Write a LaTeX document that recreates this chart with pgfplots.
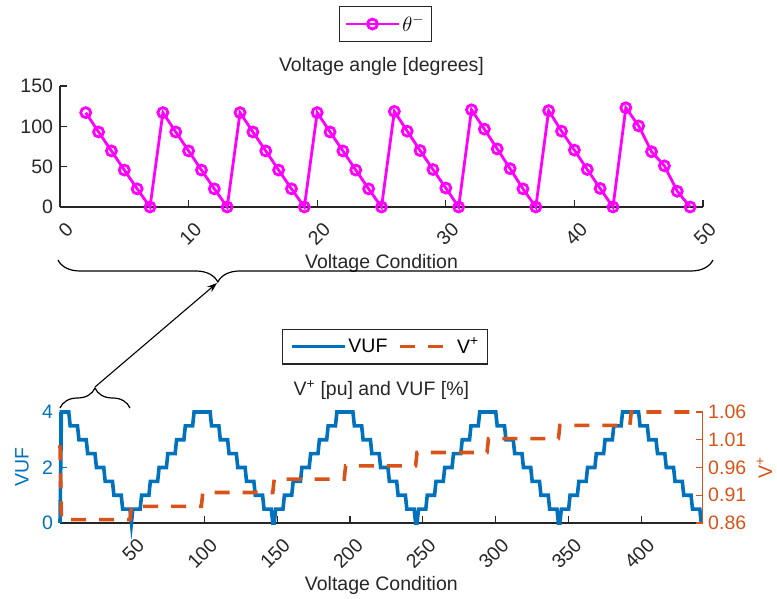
\documentclass[border=0pt]{standalone}
\usepackage{fontspec}
\setmainfont{Liberation Sans}
\usepackage{pgfplots}
\pgfplotsset{compat=1.18}
\usetikzlibrary{decorations.pathreplacing,arrows.meta}
\definecolor{mblue}{HTML}{0072BD}
\definecolor{morange}{HTML}{D95319}
\definecolor{mgray}{HTML}{262626}
\definecolor{mmag}{HTML}{FF00FF}
\begin{document}
\begin{tikzpicture}[x=1pt,y=1pt,font=\fontsize{19.5}{23}\selectfont]
\useasboundingbox (0,0) rectangle (777,599);
\pgfplotsset{
  mstyle/.style={
    scale only axis,
    axis line style={mgray, line width=1.1pt},
    tick style={mgray, line width=1.1pt},
    major tick length=7pt,
    tick align=inside,
    clip=false,
    /pgf/number format/assume math mode=true,
    every tick label/.append style={text=mgray},
    xticklabel style={xshift=12pt, yshift=-16.5pt, rotate=45, anchor=east},
  }
}
% ---------------- top axis ----------------
\begin{axis}[mstyle,
  at={(60pt,392pt)}, anchor=south west,
  width=643pt, height=121pt,
  xmin=0, xmax=50, ymin=0, ymax=150,
  axis x line*=bottom, axis y line*=left,
  xtick={0,10,20,30,40,50}, ytick={0,50,100,150},
  yticklabel style={xshift=-3.5pt},
  title={Voltage angle [degrees]},
  title style={at={(axis description cs:0.5,1)}, anchor=center, yshift=14pt, text=mgray},
  xlabel={Voltage Condition},
  xlabel style={at={(axis description cs:0.5,0)}, anchor=center, yshift=-56pt, text=mgray},
  legend style={at={(axis description cs:0.506,1.512)}, anchor=center, draw=mgray, line width=1.1pt,
    inner xsep=5pt, inner ysep=7pt},
  legend image code/.code={
    \draw[#1] (0pt,0pt) -- (53pt,0pt);
    \draw[#1] plot coordinates {(26.5pt,0pt)};
  },
]
\addplot[mmag, line width=2.8pt, mark=o, mark size=5pt, mark options={line width=2.8pt}] coordinates {
(2,117) (3,93) (4,69.5) (5,45.8) (6,22.5) (7,0)
(8,117) (9,93) (10,69.5) (11,45.8) (12,22.5) (13,0)
(14,117) (15,93) (16,69.5) (17,45.8) (18,22.5) (19,0)
(20,117) (21,93) (22,69.5) (23,45.8) (24,22.5) (25,0)
(26,118.5) (27,94) (28,70) (29,46.5) (30,23.5) (31,0)
(32,120.5) (33,96.5) (34,72) (35,47.5) (36,22.5) (37,0)
(38,119.5) (39,94) (40,70.5) (41,46.5) (42,23) (43,0)
(44,123) (45,100.5) (46,68.5) (47,51) (48,19.5) (49,0)
};
\addlegendentry{$\theta^-$}
\end{axis}
% ---------------- bottom axis (left, VUF) ----------------
\begin{axis}[mstyle,
  at={(60pt,76pt)}, anchor=south west,
  width=642.7pt, height=111pt,
  xmin=1, xmax=442, ymin=0, ymax=4,
  axis x line*=bottom, axis y line*=left,
  y axis line style={draw=mblue},
  every major y tick/.append style={draw=mblue},
  xtick={50,100,...,400}, ytick={0,2,4},
  yticklabel style={xshift=-3.5pt, text=mblue},
  ylabel={VUF},
  ylabel style={at={(axis description cs:-0.059,0.5)}, anchor=center, text=mblue},
  title={V\textsuperscript{+} [pu] and VUF [\%]},
  title style={at={(axis description cs:0.5,1)}, anchor=center, yshift=16pt, text=mgray},
  xlabel={Voltage Condition},
  xlabel style={at={(axis description cs:0.5,0)}, anchor=center, yshift=-62pt, text=mgray},
]
\addplot[mblue, line width=3.6pt] coordinates {
(1,0) (2,4) (7,4) (8,3.5) (13,3.5) (14,3) (19,3) (20,2.5) (25,2.5) (26,2) (31,2) (32,1.5) (37,1.5) (38,1) (43,1) (44,0.5) (49,0.5) (50,0)
(51,0.5) (56,0.5) (57,1) (62,1) (63,1.5) (68,1.5) (69,2) (74,2) (75,2.5) (80,2.5) (81,3) (86,3) (87,3.5) (92,3.5) (93,4) (104,4) (105,3.5) (110,3.5) (111,3) (116,3) (117,2.5) (122,2.5) (123,2) (128,2) (129,1.5) (134,1.5) (135,1) (140,1) (141,0.5) (146,0.5) (147,0) (148,0)
(149,0.5) (154,0.5) (155,1) (160,1) (161,1.5) (166,1.5) (167,2) (172,2) (173,2.5) (178,2.5) (179,3) (184,3) (185,3.5) (190,3.5) (191,4) (202,4) (203,3.5) (208,3.5) (209,3) (214,3) (215,2.5) (220,2.5) (221,2) (226,2) (227,1.5) (232,1.5) (233,1) (238,1) (239,0.5) (244,0.5) (245,0) (246,0)
(247,0.5) (252,0.5) (253,1) (258,1) (259,1.5) (264,1.5) (265,2) (270,2) (271,2.5) (276,2.5) (277,3) (282,3) (283,3.5) (288,3.5) (289,4) (300,4) (301,3.5) (306,3.5) (307,3) (312,3) (313,2.5) (318,2.5) (319,2) (324,2) (325,1.5) (330,1.5) (331,1) (336,1) (337,0.5) (342,0.5) (343,0) (344,0)
(345,0.5) (350,0.5) (351,1) (356,1) (357,1.5) (362,1.5) (363,2) (368,2) (369,2.5) (374,2.5) (375,3) (380,3) (381,3.5) (386,3.5) (387,4) (398,4) (399,3.5) (404,3.5) (405,3) (410,3) (411,2.5) (416,2.5) (417,2) (422,2) (423,1.5) (428,1.5) (429,1) (434,1) (435,0.5) (440,0.5) (441,0)
};
\end{axis}
% ---------------- bottom axis (right, V+) ----------------
\begin{axis}[mstyle,
  at={(60pt,76pt)}, anchor=south west,
  width=642.7pt, height=111pt,
  xmin=1, xmax=442, ymin=0.86, ymax=1.06,
  axis x line=none, axis y line*=right,
  y axis line style={draw=morange},
  every major y tick/.append style={draw=morange},
  ytick={0.86,0.91,0.96,1.01,1.06},
  yticklabel style={xshift=2pt, text=morange, /pgf/number format/.cd, fixed, fixed zerofill, precision=2, /tikz/.cd},
  ylabel={V\textsuperscript{+}},
  ylabel style={at={(axis description cs:1.096,0.5)}, anchor=center, text=morange},
  legend style={at={(axis description cs:0.506,1.59)}, anchor=center, draw=mgray, line width=1.1pt,
    inner xsep=7pt, inner ysep=7pt, legend columns=2,
    /tikz/every odd column/.append style={column sep=0pt},
    /tikz/every even column/.append style={column sep=9pt}},
  legend image code/.code={\draw[#1] (0pt,0pt) -- (53pt,0pt);},
]
\addlegendimage{mblue, line width=3.6pt}
\addlegendentry{VUF}
\addplot[morange, line width=3.6pt, dash pattern=on 15pt off 13pt] coordinates {
(1,1.0) (2,0.866) (49,0.866) (50,0.890) (98,0.890) (99,0.915) (147,0.915) (148,0.939) (196,0.939)
(197,0.963) (245,0.963) (246,0.987) (294,0.987) (295,1.012) (343,1.012) (344,1.036) (392,1.036) (393,1.060) (441,1.060)
};
\addlegendentry{V\textsuperscript{+}}
\end{axis}
% ---------------- braces and arrow ----------------
\draw[black, line width=1.2pt, decorate, decoration={brace, mirror, amplitude=22pt, aspect=0.244}] (58,339) -- (713,339);
\draw[black, line width=1.2pt, decorate, decoration={brace, amplitude=20pt}] (60,191) -- (130,191);
\draw[black, line width=1.1pt, -{Stealth[length=10pt, width=7pt]}] (95,212) -- (217,316);
\end{tikzpicture}
\end{document}
